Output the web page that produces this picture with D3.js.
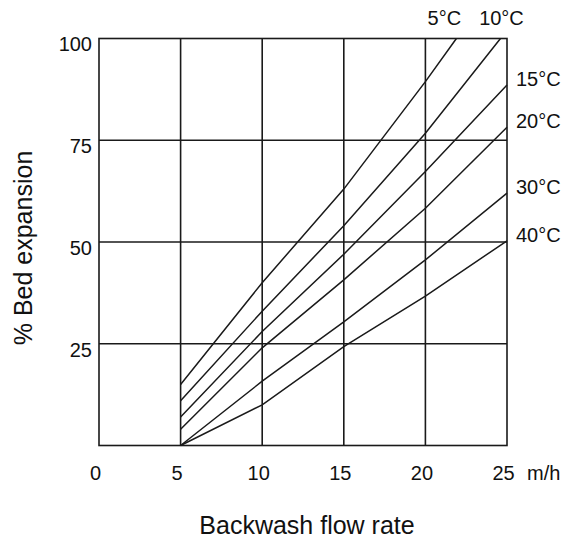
<!DOCTYPE html>
<html>
<head>
<meta charset="utf-8">
<script src="https://cdn.jsdelivr.net/npm/d3@7"></script>
<style>
  body { margin: 0; background: #fff; }
  text { font-family: "Liberation Sans", Arial, sans-serif; fill: #111; }
</style>
</head>
<body>
<div id="holder"></div>
<script>
const w = 564;
const h = 542;

// DATA
const xTicks = [0, 5, 10, 15, 20, 25];
const yTicks = [25, 50, 75, 100];
const temps = ["5°C", "10°C", "15°C", "20°C", "30°C", "40°C"];
const flow5C = [5, 10, 15, 20, 21.9];
const exp5C = [15, 40, 63, 89.4, 100];
const flow10C = [5, 10, 15, 20, 24.6];
const exp10C = [11, 33, 54, 76.7, 100];
const flow15C = [5, 10, 15, 20, 25];
const exp15C = [7, 28, 47, 67.3, 88.6];
const flow20C = [5, 10, 15, 20, 25];
const exp20C = [4, 24, 40.7, 58.3, 78.2];
const flow30C = [5, 10, 15, 20, 25];
const exp30C = [0, 15.8, 30.4, 45.6, 62];
const flow40C = [5, 10, 15, 20, 25];
const exp40C = [0, 10, 24.3, 36.7, 50.3];

const flows = [flow5C, flow10C, flow15C, flow20C, flow30C, flow40C];
const exps = [exp5C, exp10C, exp15C, exp20C, exp30C, exp40C];

// SCALES
const xScale = d3.scaleLinear().domain([0, 25]).range([99, 507]);
const yScale = d3.scaleLinear().domain([0, 100]).range([445.5, 38.5]);

const svg = d3.select("#holder")
    .append("svg")
    .attr("width", w)
    .attr("height", h);

// GRID
svg.append("g")
    .selectAll("line")
    .data([5, 10, 15, 20])
    .enter()
    .append("line")
    .attr("x1", d => xScale(d))
    .attr("x2", d => xScale(d))
    .attr("y1", yScale(0))
    .attr("y2", yScale(100))
    .attr("stroke", "#1a1a1a")
    .attr("stroke-width", 1.6);

svg.append("g")
    .selectAll("line")
    .data([25, 50, 75])
    .enter()
    .append("line")
    .attr("x1", xScale(0))
    .attr("x2", xScale(25))
    .attr("y1", d => yScale(d))
    .attr("y2", d => yScale(d))
    .attr("stroke", "#1a1a1a")
    .attr("stroke-width", 1.6);

svg.append("rect")
    .attr("x", xScale(0))
    .attr("y", yScale(100))
    .attr("width", xScale(25) - xScale(0))
    .attr("height", yScale(0) - yScale(100))
    .attr("fill", "none")
    .attr("stroke", "#1a1a1a")
    .attr("stroke-width", 1.6);

// AXES (labels only)
const xAxis = d3.axisBottom(xScale).tickValues(xTicks).tickSize(0).tickPadding(0);
const gx = svg.append("g")
    .attr("transform", "translate(-4," + (yScale(0) + 34) + ")")
    .call(xAxis);
gx.select(".domain").remove();
gx.selectAll("text")
    .attr("dy", 0)
    .style("font-size", "20px")
    .style("font-family", "Liberation Sans, Arial, sans-serif");

const yAxis = d3.axisLeft(yScale).tickValues(yTicks).tickSize(0).tickPadding(0);
const gy = svg.append("g")
    .attr("transform", "translate(92,6)")
    .call(yAxis);
gy.select(".domain").remove();
gy.selectAll("text")
    .style("font-size", "20px")
    .style("font-family", "Liberation Sans, Arial, sans-serif");

svg.append("text")
    .attr("x", xScale(25) + 20)
    .attr("y", yScale(0) + 34)
    .style("font-size", "20px")
    .text("m/h");

// TITLES
svg.append("text")
    .attr("x", 307)
    .attr("y", 534)
    .attr("text-anchor", "middle")
    .style("font-size", "25px")
    .text("Backwash flow rate");

svg.append("text")
    .attr("transform", "translate(32,248) rotate(-90)")
    .attr("text-anchor", "middle")
    .style("font-size", "25px")
    .text("% Bed expansion");

// CURVES
const line = d3.line()
    .x(d => xScale(d[0]))
    .y(d => yScale(d[1]));

flows.forEach((f, i) => {
    const pts = f.map((x, j) => [x, exps[i][j]]);
    svg.append("path")
        .datum(pts)
        .attr("d", line)
        .attr("fill", "none")
        .attr("stroke", "#1a1a1a")
        .attr("stroke-width", 1.5);

    const lastX = f[f.length - 1];
    const lastY = exps[i][exps[i].length - 1];
    const t = svg.append("text")
        .style("font-size", "20px")
        .text(temps[i]);
    if (lastY >= 100) {
        t.attr("x", xScale(lastX) + (i === 0 ? -12 : 1))
            .attr("y", yScale(100) - 14)
            .attr("text-anchor", "middle");
    } else {
        t.attr("x", xScale(25) + 9)
            .attr("y", yScale(lastY) + 1);
    }
});
</script>
</body>
</html>
